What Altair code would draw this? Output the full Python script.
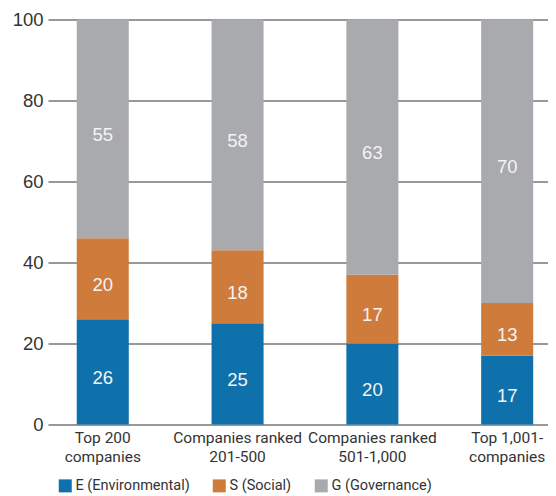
import altair as alt
import pandas as pd

categories = ["Top 200\ncompanies", "Companies ranked\n201-500",
              "Companies ranked\n501-1,000", "Top 1,001-\ncompanies"]
components = ["E (Environmental)", "S (Social)", "G (Governance)"]
colors = ["#0f71ab", "#cf7b3c", "#a9aaad"]
e_values = [26, 25, 20, 17]
s_values = [20, 18, 17, 13]
g_values = [55, 58, 63, 70]
y_ticks = [0, 20, 40, 60, 80, 100]

rows = []
for i, cat in enumerate(categories):
    for j, (comp, vals) in enumerate(zip(components, [e_values, s_values, g_values])):
        rows.append({"category": cat, "component": comp, "order": j, "value": vals[i]})
df = pd.DataFrame(rows)

COND = "Roboto, sans-serif"
REG = "Liberation Sans, Arial, sans-serif"

x_enc = alt.X("category:N", sort=categories, title=None,
              scale=alt.Scale(paddingInner=0.614, paddingOuter=0.1615, align=0.66),
              axis=alt.Axis(labelAngle=0, domain=False, ticks=False, labelPadding=6,
                            labelExpr="split(datum.label, '\\n')", labelFont=COND,
                            labelFontSize=15.5, labelColor="#333333", labelLineHeight=18.5,
                            labelBaseline="top"))
y_scale = alt.Scale(domain=[0, 100], clamp=True, nice=False)

base = alt.Chart(df).transform_stack(
    stack="value", as_=["v0", "v1"], groupby=["category"], sort=[alt.SortField("order")]
).transform_calculate(
    mid="(min(datum.v0, 100) + min(datum.v1, 100)) / 2"
)

bars = base.mark_bar().encode(
    x=x_enc,
    y=alt.Y("v0:Q", scale=y_scale, title=None,
            axis=alt.Axis(values=y_ticks, domain=False, ticks=False, labelPadding=5,
                          grid=True, gridColor="#333333", gridWidth=1, gridOpacity=1,
                          labelFont=REG, labelFontSize=18.5, labelColor="#333333")),
    y2="v1:Q",
    color=alt.Color("component:N", sort=components, title=None,
                    scale=alt.Scale(domain=components, range=colors),
                    legend=alt.Legend(orient="none", direction="horizontal",
                                      legendX=10, legendY=459, symbolType="square",
                                      symbolSize=169, symbolStrokeWidth=0,
                                      symbolOpacity=1, labelFont=COND,
                                      labelFontSize=14.5, labelColor="#333333",
                                      labelOffset=3, columnPadding=22, padding=0)),
    order=alt.Order("order:Q"),
)

labels = base.mark_text(color="#f4f4f4", font=REG, fontSize=18.5, dy=6,
                        baseline="middle").encode(
    x=alt.X("category:N", sort=categories),
    y=alt.Y("mid:Q", scale=y_scale),
    text=alt.Text("value:Q"),
)

chart = alt.layer(bars, labels).properties(
    width=500, height=405,
    autosize=alt.AutoSizeParams(type="none"),
    padding={"left": 40, "top": 11.5, "right": 0, "bottom": 72},
).configure_view(stroke=None)

chart.save("out.html", embed_options={"renderer": "svg", "actions": False})
